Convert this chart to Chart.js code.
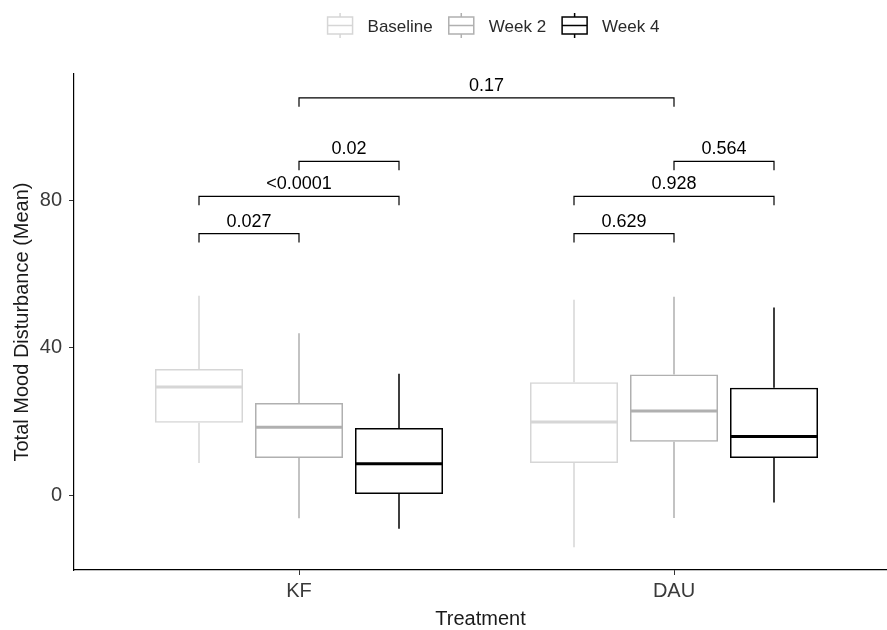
<!DOCTYPE html>
<html>
<head>
<meta charset="utf-8">
<script src="https://cdn.jsdelivr.net/npm/chart.js@4.4.1/dist/chart.umd.min.js"></script>
<style>
html, body { margin: 0; padding: 0; background: #fff; }
</style>
</head>
<body>
<canvas id="chart" width="887" height="630"></canvas>
<script>
const treatments = ["KF", "DAU"];
const groups = ["Baseline", "Week 2", "Week 4"];
const colors = ["#d6d6d6", "#b0b0b0", "#000000"];

// one row per group, one value per treatment [KF, DAU]
const whiskerLow = [[8.7, -14.1], [-6.3, -6.2], [-9.1, -2.0]];
const boxLow = [[19.6, 8.7], [10.1, 14.5], [0.3, 10.1]];
const medians = [[29.3, 19.8], [18.4, 22.8], [8.5, 15.9]];
const boxHigh = [[34.2, 30.6], [25.0, 32.7], [18.2, 29.1]];
const whiskerHigh = [[54.1, 53.0], [43.9, 53.8], [32.9, 50.9]];

const yTicks = [0, 40, 80];

// p-value brackets, ends given as [treatment, group]
const pLabels = ["0.027", "<0.0001", "0.02", "0.629", "0.928", "0.564", "0.17"];
const pFrom = [[0, 0], [0, 0], [0, 1], [1, 0], [1, 0], [1, 1], [0, 1]];
const pTo = [[0, 1], [0, 2], [0, 2], [1, 1], [1, 2], [1, 2], [1, 1]];
const pLevel = [70.9, 81.0, 90.5, 70.9, 81.0, 90.5, 107.7];

const FONT = "'Liberation Sans', Arial, sans-serif";

const boxParts = {
    id: "boxParts",
    afterDatasetsDraw(chart) {
        const ctx = chart.ctx;
        const y = chart.scales.y;
        ctx.save();

        // whiskers and medians
        chart.data.datasets.forEach((ds, g) => {
            const meta = chart.getDatasetMeta(g);
            meta.data.forEach((bar, i) => {
                const half = bar.width / 2;
                ctx.strokeStyle = colors[g];
                ctx.lineWidth = 1.5;
                ctx.beginPath();
                ctx.moveTo(bar.x, y.getPixelForValue(boxHigh[g][i]));
                ctx.lineTo(bar.x, y.getPixelForValue(whiskerHigh[g][i]));
                ctx.moveTo(bar.x, y.getPixelForValue(boxLow[g][i]));
                ctx.lineTo(bar.x, y.getPixelForValue(whiskerLow[g][i]));
                ctx.stroke();
                const my = y.getPixelForValue(medians[g][i]);
                ctx.lineWidth = 3;
                ctx.beginPath();
                ctx.moveTo(bar.x - half + 0.75, my);
                ctx.lineTo(bar.x + half - 0.75, my);
                ctx.stroke();
            });
        });

        // brackets
        ctx.strokeStyle = "#000";
        ctx.fillStyle = "#000";
        ctx.lineWidth = 1.2;
        ctx.font = "18px " + FONT;
        ctx.textAlign = "center";
        ctx.textBaseline = "alphabetic";
        pLabels.forEach((lab, k) => {
            const x1 = chart.getDatasetMeta(pFrom[k][1]).data[pFrom[k][0]].x;
            const x2 = chart.getDatasetMeta(pTo[k][1]).data[pTo[k][0]].x;
            const yy = y.getPixelForValue(pLevel[k]);
            const drop = y.getPixelForValue(pLevel[k] - 2.4);
            ctx.beginPath();
            ctx.moveTo(x1, drop);
            ctx.lineTo(x1, yy);
            ctx.lineTo(x2, yy);
            ctx.lineTo(x2, drop);
            ctx.stroke();
            ctx.fillText(lab, (x1 + x2) / 2, yy - 7);
        });

        ctx.restore();
    },
    afterDraw(chart) {
        // legend with boxplot glyphs
        const ctx = chart.ctx;
        ctx.save();
        ctx.font = "17px " + FONT;
        const iconW = 25, gapIcon = 15, gapItem = 16;
        const widths = groups.map(g => ctx.measureText(g).width);
        let total = 0;
        widths.forEach((w, k) => {
            total += iconW + gapIcon + w + (k < groups.length - 1 ? gapItem : 0);
        });
        let x = 493.5 - total / 2;
        const cy = 25.5;
        groups.forEach((g, k) => {
            ctx.strokeStyle = colors[k];
            ctx.lineWidth = 1.5;
            ctx.beginPath();
            ctx.rect(x, cy - 8.5, iconW, 17);
            ctx.moveTo(x, cy);
            ctx.lineTo(x + iconW, cy);
            ctx.moveTo(x + iconW / 2, cy - 8.5);
            ctx.lineTo(x + iconW / 2, cy - 12.5);
            ctx.moveTo(x + iconW / 2, cy + 8.5);
            ctx.lineTo(x + iconW / 2, cy + 12.5);
            ctx.stroke();
            ctx.fillStyle = "#2a2a2a";
            ctx.textAlign = "left";
            ctx.textBaseline = "middle";
            ctx.fillText(g, x + iconW + gapIcon, cy + 1.5);
            x += iconW + gapIcon + widths[k] + gapItem;
        });
        ctx.restore();
    }
};

const axisFont = { family: FONT, size: 20 };

new Chart(document.getElementById("chart"), {
    type: "bar",
    data: {
        datasets: groups.map((g, k) => ({
            label: g,
            data: treatments.map((t, i) => ({ x: i + 1, y: [boxLow[k][i], boxHigh[k][i]] })),
            backgroundColor: "rgba(255,255,255,0)",
            borderColor: colors[k],
            borderWidth: 1.5,
            borderSkipped: false,
            categoryPercentage: 0.8,
            barPercentage: 0.88
        }))
    },
    options: {
        responsive: false,
        animation: false,
        layout: { padding: { top: 74, right: 0, bottom: 0, left: 0 } },
        plugins: {
            legend: { display: false },
            tooltip: { enabled: false }
        },
        scales: {
            x: {
                type: "linear",
                min: 0.4,
                max: 2.568,
                offset: false,
                afterBuildTicks: s => { s.ticks = treatments.map((t, i) => ({ value: i + 1 })); },
                afterFit: s => { s.height = 60; },
                ticks: {
                    callback: v => treatments[v - 1],
                    font: axisFont,
                    color: "#3a3a3a",
                    padding: 4,
                    autoSkip: false,
                    maxRotation: 0
                },
                grid: { display: true, offset: false, drawOnChartArea: false, drawTicks: true, tickLength: 5, color: "#333" },
                border: { display: true, color: "#000", width: 1.2 },
                title: {
                    display: true,
                    text: "Treatment",
                    font: { family: FONT, size: 20, lineHeight: 1.1 },
                    color: "#1a1a1a",
                    padding: { top: 0, bottom: 0 }
                }
            },
            y: {
                min: -20.3,
                max: 114.2,
                afterBuildTicks: s => { s.ticks = yTicks.map(v => ({ value: v })); },
                afterFit: s => { s.width = 74; },
                ticks: { font: axisFont, color: "#3a3a3a", padding: 7 },
                grid: { display: true, drawOnChartArea: false, drawTicks: true, tickLength: 5, color: "#333" },
                border: { display: true, color: "#000", width: 1.2 },
                title: {
                    display: true,
                    text: "Total Mood Disturbance (Mean)",
                    font: { family: FONT, size: 20, lineHeight: 1.2 },
                    color: "#1a1a1a",
                    padding: { top: 10, bottom: 0 }
                }
            }
        }
    },
    plugins: [boxParts]
});
</script>
</body>
</html>
